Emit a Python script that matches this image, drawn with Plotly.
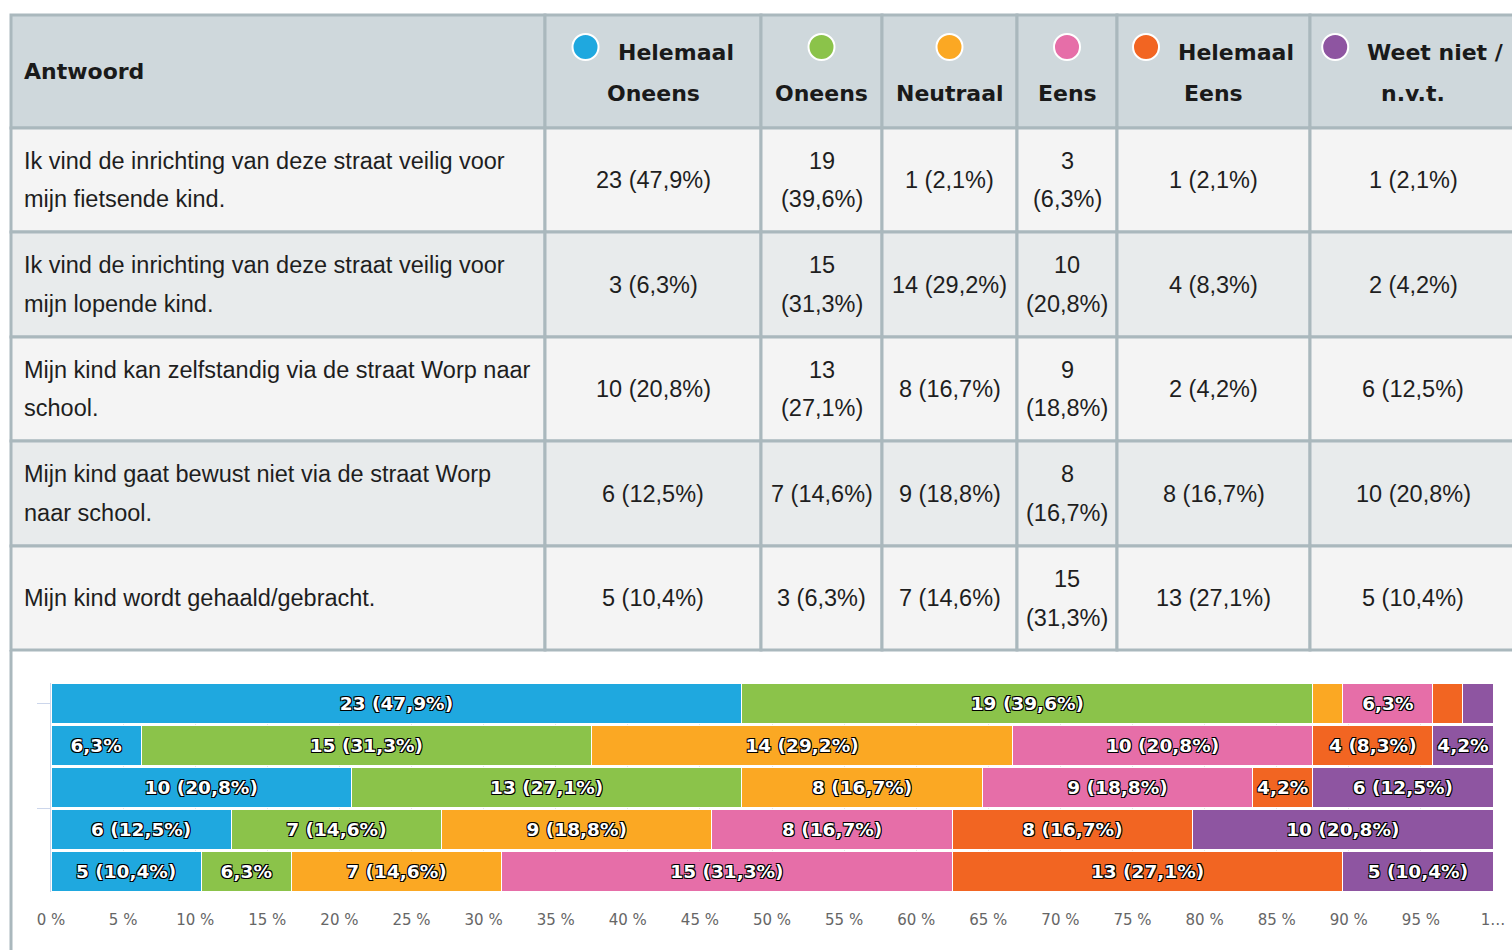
import math
import textwrap
import plotly.graph_objects as go

# ---------------- data ----------------
answers = ["Helemaal Oneens", "Oneens", "Neutraal", "Eens", "Helemaal Eens", "Weet niet / n.v.t."]
header_lines = [["Helemaal", "Oneens"], ["", "Oneens"], ["", "Neutraal"], ["", "Eens"],
                ["Helemaal", "Eens"], ["Weet niet /", "n.v.t."]]
colors = ["#1fa8df", "#8bc34a", "#fba823", "#e66ea8", "#f26522", "#8e55a1"]
questions = [
    "Ik vind de inrichting van deze straat veilig voor mijn fietsende kind.",
    "Ik vind de inrichting van deze straat veilig voor mijn lopende kind.",
    "Mijn kind kan zelfstandig via de straat Worp naar school.",
    "Mijn kind gaat bewust niet via de straat Worp naar school.",
    "Mijn kind wordt gehaald/gebracht.",
]
helemaal_oneens = [23, 3, 10, 6, 5]
oneens = [19, 15, 13, 7, 3]
neutraal = [1, 14, 8, 9, 7]
eens = [3, 10, 9, 8, 15]
helemaal_eens = [1, 4, 2, 8, 13]
weet_niet = [1, 2, 6, 10, 5]
series = [helemaal_oneens, oneens, neutraal, eens, helemaal_eens, weet_niet]
x_tick_values = list(range(0, 101, 5))
x_tick_labels = [f"{v} %" for v in range(0, 100, 5)] + ["1…"]
header_first = "Antwoord"

# ---------------- helpers ----------------
W, H = 1512, 950
def px(x): return x / W
def py(y): return 1 - y / H

totals = [sum(s[i] for s in series) for i in range(len(questions))]
def pct(n, t):
    return math.floor(n / t * 1000 + 0.5) / 10
def fmt(p):
    return f"{p:.1f}".replace(".", ",")

# layout of the table (pixels)
col_edges = [11, 545, 761, 882, 1017, 1117, 1310, 1516]
row_edges = [15, 128, 232, 337, 441, 546, 650]
border = "#aab8bd"
header_bg = "#cfd8dc"
row_bg = ["#f4f4f4", "#e8ebec"]
body_font = dict(family="Liberation Sans, Arial, sans-serif", size=23.5, color="#1e1e1e")
head_font = dict(family="DejaVu Sans", size=22, color="#1a1a1a", weight="bold")
LINE = 39

bold_w = {" ": .348, "/": .365, ".": .380, "H": .837, "e": .678, "l": .343, "m": 1.042, "a": .675,
          "O": .850, "n": .712, "s": .595, "N": .837, "u": .712, "t": .478, "r": .493, "E": .683,
          "W": 1.103, "i": .343, "v": .652}
def head_width(t):
    return sum(bold_w.get(c, .65) for c in t) * head_font["size"]

shapes = []
annotations = []

def add_text(txt, x, y, font, xanchor="center"):
    annotations.append(dict(text=txt, x=px(x), y=py(y), xref="paper", yref="paper",
                            xanchor=xanchor, yanchor="middle", showarrow=False,
                            font=font, align="left" if xanchor == "left" else "center"))

# cells
for r in range(len(row_edges) - 1):
    fill = header_bg if r == 0 else row_bg[(r - 1) % 2]
    for c in range(len(col_edges) - 1):
        shapes.append(dict(type="rect", xref="paper", yref="paper",
                           x0=px(col_edges[c]), x1=px(col_edges[c + 1]),
                           y0=py(row_edges[r + 1]), y1=py(row_edges[r]),
                           fillcolor=fill, line=dict(color=border, width=3), layer="below"))
# container left border below the table
shapes.append(dict(type="line", xref="paper", yref="paper", x0=px(11), x1=px(11),
                   y0=py(650), y1=py(950), line=dict(color=border, width=3)))

# header
add_text(header_first, 22, 71, head_font, xanchor="left")
D, GAP = 26, 19
for c, (l1, l2) in enumerate(header_lines):
    cx = (col_edges[c + 1] + col_edges[c + 2]) / 2
    y1c, y2c = 53, 93
    if l1:
        w = head_width(l1)
        total = D + GAP + w
        circ_x = cx - total / 2 + D / 2
        add_text(l1, cx - total / 2 + D + GAP + w / 2, y1c, head_font)
    else:
        circ_x = cx
    shapes.append(dict(type="circle", xref="paper", yref="paper",
                       x0=px(circ_x - D / 2), x1=px(circ_x + D / 2),
                       y0=py(47 + D / 2), y1=py(47 - D / 2),
                       fillcolor=colors[c], line=dict(color="white", width=2)))
    add_text(l2, cx, y2c, head_font)

# body
for r, q in enumerate(questions):
    rc = (row_edges[r + 1] + row_edges[r + 2]) / 2
    lines = textwrap.wrap(q, 49)
    for i, ln in enumerate(lines):
        add_text(ln, 22, rc + (i - (len(lines) - 1) / 2) * LINE, body_font, xanchor="left")
    for c, s in enumerate(series):
        cx = (col_edges[c + 1] + col_edges[c + 2]) / 2
        cw = col_edges[c + 2] - col_edges[c + 1]
        n = s[r]
        full = f"{n} ({fmt(pct(n, totals[r]))}%)"
        if len(full) * 11 + 20 > cw:
            vl = [str(n), f"({fmt(pct(n, totals[r]))}%)"]
        else:
            vl = [full]
        for i, ln in enumerate(vl):
            add_text(ln, cx, rc + (i - (len(vl) - 1) / 2) * LINE, body_font)

# ---------------- bar chart ----------------
fig = go.Figure()
ypos = list(range(len(questions)))
for c, s in enumerate(series):
    xs = [n / totals[i] * 100 for i, n in enumerate(s)]
    labels = []
    for i, n in enumerate(s):
        p = pct(n, totals[i])
        if p < 3:
            labels.append("")
        elif p < 7:
            labels.append(f"{fmt(p)}%")
        else:
            labels.append(f"{n} ({fmt(p)}%)")
    fig.add_trace(go.Bar(
        x=xs, y=ypos, orientation="h", name=answers[c],
        marker=dict(color=colors[c], line=dict(color="white", width=1)),
        text=labels, textposition="inside", insidetextanchor="middle",
        textangle=0, constraintext="none",
        textfont=dict(family="DejaVu Sans", size=18.5, color="white", weight="bold",
                      shadow="-1px -1px 0 #000, 1px -1px 0 #000, -1px 1px 0 #000, 1px 1px 0 #000"),
        showlegend=False, hoverinfo="x+name",
    ))

fig.update_layout(
    width=W, height=H, margin=dict(l=0, r=0, t=0, b=0, autoexpand=False),
    paper_bgcolor="white", plot_bgcolor="white",
    barmode="stack", bargap=0.04,
    shapes=shapes, annotations=annotations,
    xaxis=dict(domain=[px(51), px(1493)], range=[0, 100], tickvals=x_tick_values,
               ticktext=x_tick_labels, showgrid=True, gridcolor="#e6e6e6", zeroline=False,
               ticks="outside", ticklen=4, tickcolor="white", ticklabelstandoff=10,
               tickfont=dict(family="DejaVu Sans", size=15, color="#666666"), fixedrange=True,
               automargin=False),
    yaxis=dict(domain=[py(892), py(683)], range=[4.5, -0.5], tickvals=[0, 2.5], ticktext=["", ""],
               ticks="outside", ticklen=13, tickcolor="#ccd6eb", showline=True,
               linecolor="#ccd6eb", showgrid=False, zeroline=False, fixedrange=True,
               automargin=False),
)

fig.write_html("out.html", config={"displayModeBar": False},
               post_script="document.body.style.margin='0';document.body.style.overflow='hidden';")
